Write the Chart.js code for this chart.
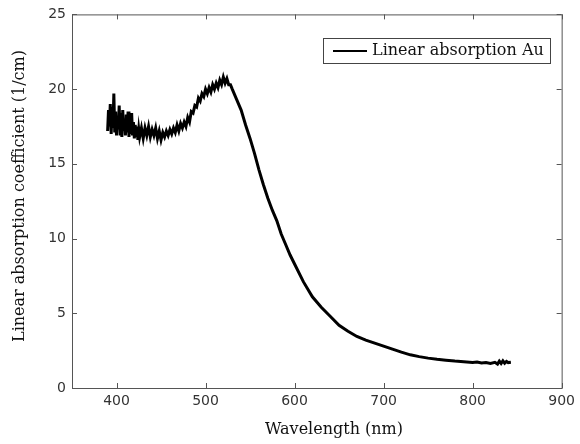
<!DOCTYPE html>
<html lang="en">
<head>
  <meta charset="UTF-8">
  <title>Linear absorption Au</title>
  <script src="https://cdn.jsdelivr.net/npm/chart.js"></script>
  <style>
    html, body { margin: 0; padding: 0; background: #fff; }
    #wrap { width: 580px; height: 444px; }
  </style>
</head>
<body>
  <div id="wrap"><canvas id="absChart" width="580" height="444"></canvas></div>
  <script>
    // values
    const wavelengths = [
      390, 391, 392, 393, 394, 395, 396, 397, 398, 399,
      400, 401, 402, 403, 404, 405, 406, 407, 408, 409,
      410, 411, 412, 413, 414, 415, 416, 417, 418, 419,
      420, 421, 422, 423, 424, 425, 426, 428, 430, 432,
      434, 436, 438, 440, 442, 444, 446, 448, 450, 452,
      454, 456, 458, 460, 462, 464, 466, 468, 470, 472,
      474, 476, 478, 480, 482, 484, 486, 488, 490, 492,
      494, 496, 498, 500, 502, 504, 506, 508, 510, 512,
      514, 516, 518, 520, 522, 524, 526, 528, 530, 535,
      540, 545, 550, 555, 560, 565, 570, 575, 580, 585,
      590, 595, 600, 610, 620, 630, 640, 650, 660, 670,
      680, 690, 700, 710, 720, 730, 740, 750, 760, 770,
      780, 790, 800, 805, 810, 815, 820, 825, 828, 830,
      832, 834, 836, 838, 840, 843
    ];
    const absorption = [
      17.2, 18.6, 17.5, 19.0, 17.0, 18.8, 17.4, 19.7, 17.1, 18.5,
      16.9, 18.2, 17.3, 18.9, 17.0, 18.4, 16.8, 18.6, 17.2, 18.0,
      16.9, 18.3, 17.1, 18.5, 16.8, 17.9, 17.0, 18.4, 16.9, 17.8,
      16.7, 17.6, 16.9, 17.5, 16.6, 17.3, 16.8, 17.4, 16.7, 17.4,
      16.9, 17.5, 16.8, 17.3, 16.9, 17.4, 16.7, 17.2, 16.6, 17.1,
      16.8, 17.2, 16.9, 17.3, 17.0, 17.4, 17.1, 17.6, 17.2, 17.7,
      17.4, 17.8, 17.5, 18.1, 17.8, 18.5, 18.4, 18.9, 18.8, 19.4,
      19.2, 19.7, 19.5, 20.0, 19.7, 20.1, 19.8, 20.3, 20.0, 20.4,
      20.1, 20.6, 20.3, 20.8, 20.4, 20.7, 20.3, 20.3, 20.0, 19.3,
      18.6, 17.6, 16.7, 15.7, 14.6, 13.6, 12.7, 11.9, 11.2, 10.3,
      9.6, 8.9, 8.3, 7.1, 6.1, 5.4, 4.8, 4.2, 3.8, 3.45,
      3.2, 3.0, 2.8, 2.6, 2.4, 2.22, 2.1, 2.0, 1.92, 1.86,
      1.8, 1.76, 1.7, 1.74, 1.67, 1.71, 1.64, 1.72, 1.6, 1.8,
      1.64, 1.82, 1.66, 1.78, 1.7, 1.72
    ];
    const xTicks = [400, 500, 600, 700, 800, 900];
    const yTicks = [0, 5, 10, 15, 20, 25];
    const seriesName = 'Linear absorption Au';
    const xTitle = 'Wavelength (nm)';
    const yTitle = 'Linear absorption coefficient (1/cm)';

    const points = wavelengths.map((w, i) => ({ x: w, y: absorption[i] }));

    // frame, inward ticks on all four sides, axis titles and the boxed legend
    const framePlugin = {
      id: 'frame',
      afterDraw(chart) {
        const ctx = chart.ctx;
        const a = chart.chartArea;
        const xs = chart.scales.x, ys = chart.scales.y;
        ctx.save();
        ctx.strokeStyle = '#555';
        ctx.lineWidth = 1;
        ctx.strokeRect(a.left + 0.5, a.top + 0.5, a.right - a.left, a.bottom - a.top);
        ctx.beginPath();
        xTicks.forEach(v => {
          const px = Math.round(xs.getPixelForValue(v)) + 0.5;
          ctx.moveTo(px, a.bottom); ctx.lineTo(px, a.bottom - 5);
          ctx.moveTo(px, a.top); ctx.lineTo(px, a.top + 5);
        });
        yTicks.forEach(v => {
          const py = Math.round(ys.getPixelForValue(v)) + 0.5;
          ctx.moveTo(a.left, py); ctx.lineTo(a.left + 5, py);
          ctx.moveTo(a.right, py); ctx.lineTo(a.right - 5, py);
        });
        ctx.stroke();

        // axis titles
        ctx.fillStyle = '#111';
        ctx.font = '16px "DejaVu Serif"';
        ctx.textAlign = 'center';
        ctx.textBaseline = 'middle';
        ctx.fillText(xTitle, 334, 430);
        ctx.save();
        ctx.translate(20, 196);
        ctx.rotate(-Math.PI / 2);
        ctx.fillText(yTitle, 0, 0);
        ctx.restore();

        // legend box
        ctx.fillStyle = '#fff';
        ctx.fillRect(323, 38, 227, 25);
        ctx.strokeStyle = '#444';
        ctx.strokeRect(323.5, 38.5, 227, 25);
        ctx.strokeStyle = '#000';
        ctx.lineWidth = 2;
        ctx.beginPath();
        ctx.moveTo(333, 51); ctx.lineTo(367, 51);
        ctx.stroke();
        ctx.fillStyle = '#111';
        ctx.textAlign = 'left';
        ctx.fillText(seriesName, 372, 51);
        ctx.restore();
      }
    };

    new Chart(document.getElementById('absChart'), {
      type: 'line',
      data: {
        datasets: [{
          label: seriesName,
          data: points,
          borderColor: '#000',
          borderWidth: 3,
          pointRadius: 0,
          tension: 0,
          fill: false
        }]
      },
      options: {
        responsive: false,
        animation: false,
        events: [],
        layout: { padding: { top: 12, right: 15, left: 0, bottom: 0 } },
        plugins: { legend: { display: false }, tooltip: { enabled: false } },
        scales: {
          x: {
            type: 'linear',
            min: 350, max: 900,
            afterBuildTicks: s => { s.ticks = xTicks.map(v => ({ value: v })); },
            afterFit: s => { s.height = 56; },
            grid: { display: false, drawTicks: false },
            border: { display: false },
            ticks: {
              padding: 5,
              color: '#333',
              font: { family: '"DejaVu Sans"', size: 14 }
            }
          },
          y: {
            min: 0, max: 25,
            afterBuildTicks: s => { s.ticks = yTicks.map(v => ({ value: v })); },
            afterFit: s => { s.width = 72; },
            grid: { display: false, drawTicks: false },
            border: { display: false },
            ticks: {
              padding: 6,
              color: '#333',
              font: { family: '"DejaVu Sans"', size: 14 }
            }
          }
        }
      },
      plugins: [framePlugin]
    });
  </script>
</body>
</html>
